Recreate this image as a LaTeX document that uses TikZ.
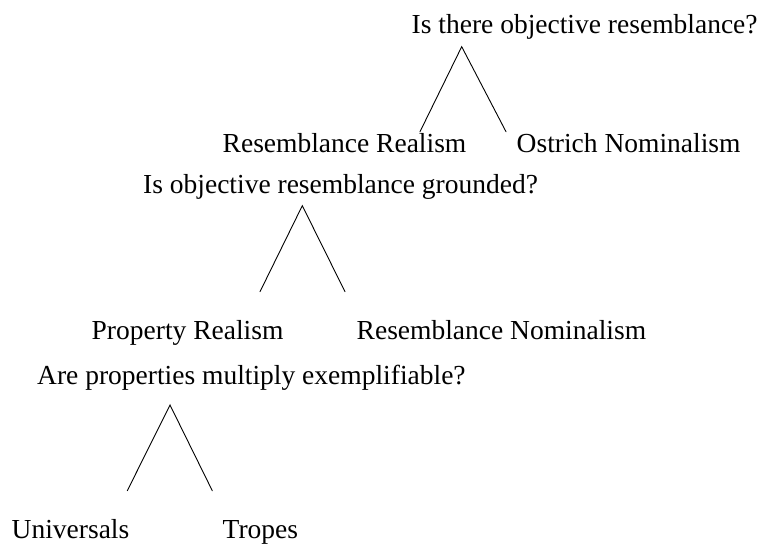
\documentclass[tikz,border=0pt]{standalone}
\usepackage{fontspec}
\setmainfont{Liberation Serif}
\begin{document}
\begin{tikzpicture}[x=1pt,y=-1pt,
  lbl/.style={anchor=base west, inner sep=0pt, font=\fontsize{27.5}{30}\selectfont},
  leg/.style={line width=0.9pt, line cap=round}]
\fill[white] (0,0) rectangle (759,544);
\useasboundingbox (0,0) rectangle (759,544);
% level 1
\node[lbl] (q1) at (411.5,33) {Is there objective resemblance?};
\coordinate (a1) at (461.7,46.7);
\coordinate (l1) at (420,131.7);
\coordinate (r1) at (506,131.7);
\draw[leg] (l1) -- (a1) -- (r1);
\node[lbl] (rr) at (222.5,152) {Resemblance Realism};
\node[lbl] (on) at (516.5,152) {Ostrich Nominalism};
% level 2
\node[lbl] (q2) at (143,193) {Is objective resemblance grounded?};
\coordinate (a2) at (302.3,205.7);
\coordinate (l2) at (260,291.7);
\coordinate (r2) at (345,291.7);
\draw[leg] (l2) -- (a2) -- (r2);
\node[lbl] (pr) at (91.5,339) {Property Realism};
\node[lbl] (rn) at (356.5,339) {Resemblance Nominalism};
% level 3
\node[lbl] (q3) at (37,384) {Are properties multiply exemplifiable?};
\coordinate (a3) at (170,405);
\coordinate (l3) at (127.3,490.7);
\coordinate (r3) at (212.3,490.7);
\draw[leg] (l3) -- (a3) -- (r3);
\node[lbl] (un) at (11.5,538) {Universals};
\node[lbl] (tr) at (222.5,538) {Tropes};
\end{tikzpicture}
\end{document}
